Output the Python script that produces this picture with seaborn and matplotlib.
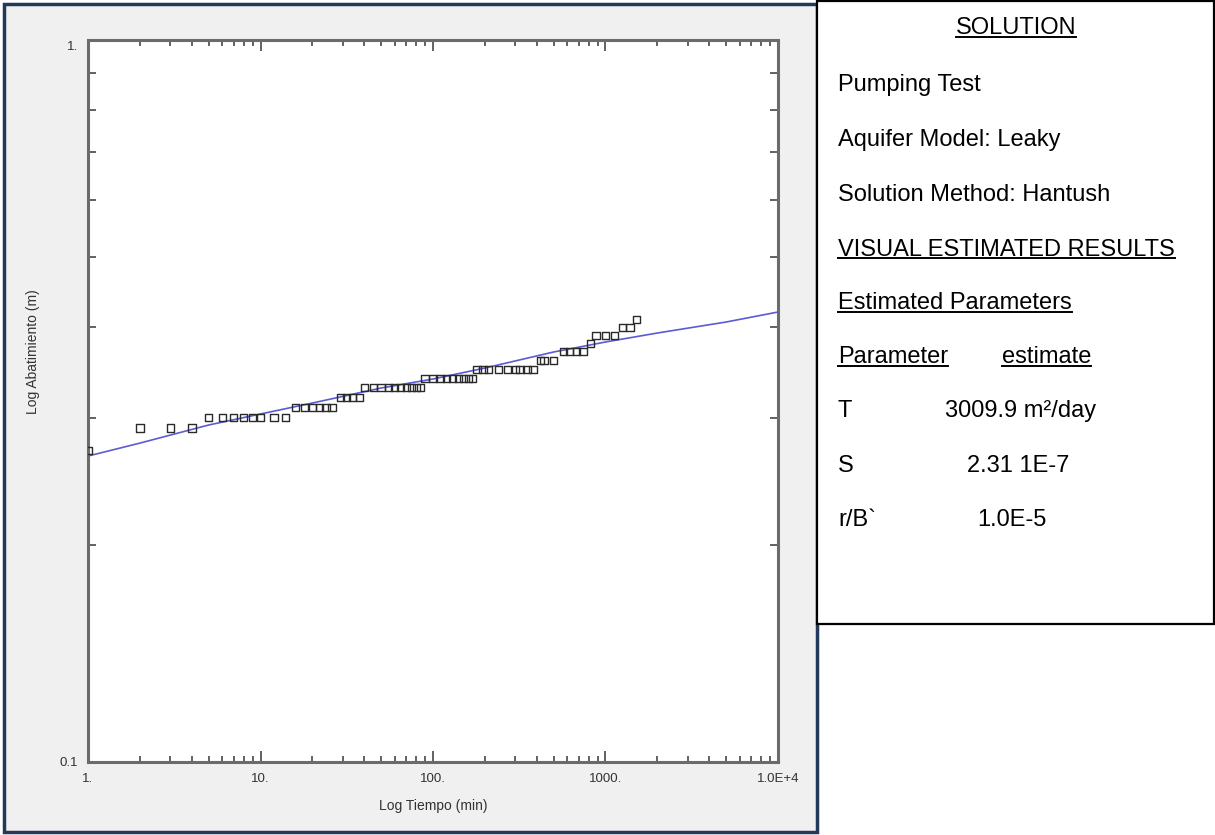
import numpy as np
import pandas as pd
import matplotlib
matplotlib.use("Agg")
import matplotlib.pyplot as plt
import matplotlib.transforms as mtransforms
import seaborn as sns
from matplotlib.patches import Rectangle
from matplotlib.lines import Line2D
from matplotlib.ticker import FixedLocator, FixedFormatter, NullFormatter

# ---------------- data ----------------
obs_time = [1, 2, 3, 4, 5, 6, 7, 8, 9, 10, 12, 14,
            16, 18, 20, 22, 24, 26,
            29, 31.5, 34, 37.5,
            40, 45, 50, 55, 60, 65, 70, 75, 80, 85,
            90, 100, 110, 120, 130, 140, 150, 160, 170,
            180, 195, 210, 240, 270, 300, 320, 350, 380,
            420, 440, 500,
            570, 620, 680, 740,
            820,
            880, 1000, 1130,
            1260, 1390,
            1515]
obs_drawdown = [0.27, 0.29, 0.29, 0.29, 0.30, 0.30, 0.30, 0.30, 0.30, 0.30, 0.30, 0.30,
                0.31, 0.31, 0.31, 0.31, 0.31, 0.31,
                0.32, 0.32, 0.32, 0.32,
                0.33, 0.33, 0.33, 0.33, 0.33, 0.33, 0.33, 0.33, 0.33, 0.33,
                0.34, 0.34, 0.34, 0.34, 0.34, 0.34, 0.34, 0.34, 0.34,
                0.35, 0.35, 0.35, 0.35, 0.35, 0.35, 0.35, 0.35, 0.35,
                0.36, 0.36, 0.36,
                0.37, 0.37, 0.37, 0.37,
                0.38,
                0.39, 0.39, 0.39,
                0.40, 0.40,
                0.41]

model_time = [1, 2, 5, 10, 20, 50, 100, 200, 500, 1000, 2000, 5000, 10000]
model_drawdown = [0.2653, 0.2765, 0.2929, 0.3034, 0.3142, 0.3296, 0.3392,
                  0.3513, 0.3697, 0.3817, 0.3928, 0.4068, 0.4200]

x_major = [1, 10, 100, 1000, 10000]
x_major_labels = ["1.", "10.", "100.", "1000.", "1.0E+4"]
y_major = [0.1, 1.0]
y_major_labels = ["0.1", "1."]
y_minor = [0.2, 0.3, 0.4, 0.5, 0.6, 0.7, 0.8, 0.9]

panel_lines = [
    ("Pumping Test", False),
    ("Aquifer Model: Leaky", False),
    ("Solution Method: Hantush", False),
    ("VISUAL ESTIMATED RESULTS", True),
    ("Estimated Parameters", True),
]
param_names = ["T", "S", "r/B`"]
param_values = ["3009.9 m\u00b2/day", "2.31 1E-7", "1.0E-5"]

# ---------------- figure ----------------
W, H = 1215, 835
fig = plt.figure(figsize=(W / 100, H / 100), dpi=100)
fig.patch.set_facecolor("white")


def fx(px):
    return px / W


def fy(py):
    return 1 - py / H


# left gray panel with dark frame
fig.add_artist(Rectangle((fx(4), fy(832)), fx(817) - fx(4), fy(4) - fy(832),
                         transform=fig.transFigure, facecolor="#f0f0f0",
                         edgecolor="#22395c", lw=2.5, zorder=-10))
# right text box
fig.add_artist(Rectangle((fx(817), fy(624)), fx(1214) - fx(817), fy(1) - fy(624),
                         transform=fig.transFigure, facecolor="white",
                         edgecolor="black", lw=1.6, zorder=-5))

ax = fig.add_axes([fx(88), fy(762), fx(778) - fx(88), fy(40) - fy(762)])
ax.set_facecolor("white")

sns.lineplot(x=model_time, y=model_drawdown, ax=ax, color="#5b5bd4", lw=1.2,
             zorder=2)
sns.scatterplot(x=obs_time, y=obs_drawdown, ax=ax, marker="s", s=28,
                facecolor="none", edgecolor="#2a2a2a", linewidth=1.0, zorder=3)

ax.set_xscale("log")
ax.set_yscale("log")
ax.set_xlim(1, 10000)
ax.set_ylim(0.1, 1.0)

ax.xaxis.set_major_locator(FixedLocator(x_major))
ax.xaxis.set_major_formatter(FixedFormatter(x_major_labels))
x_minor = [m * d for d in [1, 10, 100, 1000] for m in range(2, 10)]
ax.xaxis.set_minor_locator(FixedLocator(x_minor))
ax.xaxis.set_minor_formatter(NullFormatter())
ax.yaxis.set_major_locator(FixedLocator(y_major))
ax.yaxis.set_major_formatter(FixedFormatter(y_major_labels))
ax.yaxis.set_minor_locator(FixedLocator(y_minor))
ax.yaxis.set_minor_formatter(NullFormatter())

ax.tick_params(axis="both", which="both", direction="in", top=True, right=True,
               color="#555555", width=1.3)
ax.tick_params(axis="x", which="major", length=8, pad=8, labelsize=9.5,
               labelcolor="#333333")
ax.tick_params(axis="x", which="minor", length=4)
ax.tick_params(axis="y", which="major", length=0, pad=7, labelsize=9.5,
               labelcolor="#333333")
ax.tick_params(axis="y", which="minor", length=6)
for lab in ax.get_xticklabels() + ax.get_yticklabels():
    lab.set_family("Liberation Sans")

# nudge the top "1." label slightly down, as in the reference
ylabs = ax.get_yticklabels()
shift = mtransforms.ScaledTranslation(0, -5 / 100, fig.dpi_scale_trans)
ylabs[-1].set_transform(ylabs[-1].get_transform() + shift)

for sp in ax.spines.values():
    sp.set_color("#6b6b6b")
    sp.set_linewidth(2.2)
ax.set_xlabel("")
ax.set_ylabel("")

fig.text(fx(433), fy(806), "Log Tiempo (min)", ha="center", va="center",
         fontsize=10, color="#333333", family="Liberation Sans")
fig.text(fx(33), fy(352), "Log Abatimiento (m)", ha="center", va="center",
         rotation=90, fontsize=10, color="#333333", family="Liberation Sans")

# ---------------- right panel text ----------------
fs = 17
underlined = []
t = fig.text(fx(1016), fy(28), "SOLUTION", ha="center", va="center",
             fontsize=fs, family="Liberation Sans")
underlined.append(t)
ys = [85, 140, 195, 250, 303]
for (txt, ul), yy in zip(panel_lines, ys):
    t = fig.text(fx(838), fy(yy), txt, ha="left", va="center", fontsize=fs,
                 family="Liberation Sans")
    if ul:
        underlined.append(t)
t = fig.text(fx(838), fy(357), "Parameter", ha="left", va="center",
             fontsize=fs, family="Liberation Sans")
underlined.append(t)
t = fig.text(fx(1002), fy(357), "estimate", ha="left", va="center",
             fontsize=fs, family="Liberation Sans")
underlined.append(t)

pys = [411, 466, 520]
pxs = [945, 967, 977]
for name, val, yy, xx in zip(param_names, param_values, pys, pxs):
    fig.text(fx(838), fy(yy), name, ha="left", va="center", fontsize=fs,
             family="Liberation Sans")
    fig.text(fx(xx), fy(yy), val, ha="left", va="center", fontsize=fs,
             family="Liberation Sans")

fig.canvas.draw()
renderer = fig.canvas.get_renderer()
for t in underlined:
    bb = t.get_window_extent(renderer).transformed(fig.transFigure.inverted())
    yl = bb.y0 + 2.5 / H
    fig.add_artist(Line2D([bb.x0, bb.x1], [yl, yl], transform=fig.transFigure,
                          color="black", lw=1.4))

fig.savefig("out.png", dpi=100)
